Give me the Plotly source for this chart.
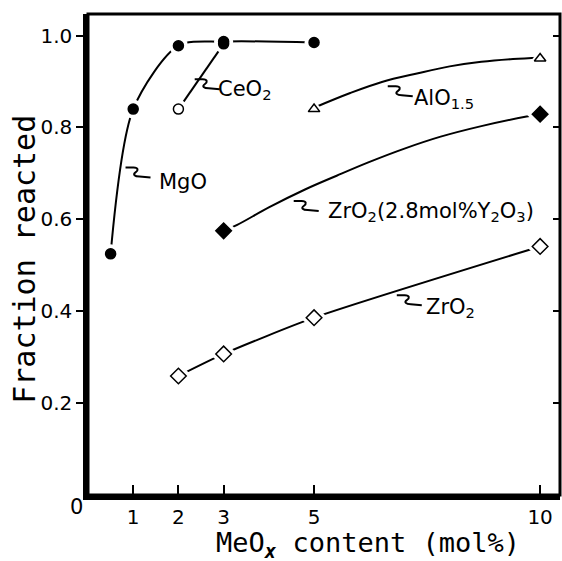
import plotly.graph_objects as go

# ---- data ----
mgo_x = [0.5, 1, 2, 3, 5]
mgo_y = [0.525, 0.84, 0.978, 0.987, 0.985]
ceo2_x = [2, 3]
ceo2_y = [0.84, 0.982]
alo_x = [5, 10]
alo_y = [0.84, 0.95]
zry_x = [3, 10]
zry_y = [0.575, 0.829]
zro2_x = [2, 3, 5, 10]
zro2_y = [0.259, 0.307, 0.386, 0.541]

# hand-drawn guide curves
alo_curve_x = [5.0, 5.8, 6.5, 7.3, 8.0, 8.7, 9.4, 10.0]
alo_curve_y = [0.843, 0.875, 0.899, 0.918, 0.933, 0.943, 0.949, 0.952]
zry_curve_x = [3.0, 3.3, 4.0, 4.8, 5.5, 6.2, 7.0, 7.8, 8.7, 9.7, 10.0]
zry_curve_y = [0.575, 0.588, 0.626, 0.665, 0.695, 0.724, 0.754, 0.780, 0.803, 0.824, 0.829]

x_ticks = [1, 2, 3, 5, 10]
y_ticks = [0.2, 0.4, 0.6, 0.8, 1.0]
y_tick_text = ["0.2", "0.4", "0.6", "0.8", "1.0"]

label_texts = ["MgO", "CeO<sub>2</sub>", "AlO<sub>1.5</sub>",
               "ZrO<sub>2</sub>(2.8mol%Y<sub>2</sub>O<sub>3</sub>)", "ZrO<sub>2</sub>"]

FONT = "DejaVu Sans"
MONO = "DejaVu Sans Mono"
BLK = "black"

fig = go.Figure()

# lines
line_style = dict(color=BLK, width=2)
fig.add_trace(go.Scatter(x=mgo_x, y=mgo_y, mode="lines", line=dict(shape="spline", smoothing=0.8, **line_style)))
fig.add_trace(go.Scatter(x=ceo2_x, y=ceo2_y, mode="lines", line=dict(**line_style)))
fig.add_trace(go.Scatter(x=alo_curve_x, y=alo_curve_y, mode="lines", line=dict(shape="spline", **line_style)))
fig.add_trace(go.Scatter(x=zry_curve_x, y=zry_curve_y, mode="lines", line=dict(shape="spline", **line_style)))
fig.add_trace(go.Scatter(x=zro2_x, y=zro2_y, mode="lines", line=dict(shape="spline", smoothing=0.6, **line_style)))

# white halos (gap between line and marker), then markers
series = [
    (mgo_x, mgo_y, "circle", ["black"] * len(mgo_x), 10),
    (ceo2_x, ceo2_y, "circle", ["white", "black"], 10),
    (alo_x, alo_y, "triangle-up", ["white"] * 2, 10),
    (zry_x, zry_y, "diamond", ["black"] * 2, 12),
    (zro2_x, zro2_y, "diamond", ["white"] * 4, 12),
]
for xs, ys, sym, cols, sz in series:
    fig.add_trace(go.Scatter(x=xs, y=ys, mode="markers",
                             marker=dict(symbol=sym, size=sz + 9, color="white", line=dict(width=0))))
for xs, ys, sym, cols, sz in series:
    fig.add_trace(go.Scatter(x=xs, y=ys, mode="markers",
                             marker=dict(symbol=sym, size=sz, color=cols, line=dict(color=BLK, width=1.5))))

# invisible trace for right axis
fig.add_trace(go.Scatter(x=[None], y=[None], yaxis="y2", mode="markers", showlegend=False))

# labels with squiggle leaders
label_pos = [(1.52, 0.682), (2.84, 0.882), (7.16, 0.862), (5.27, 0.615), (7.44, 0.408)]
squig_pos = [(0.83, 0.713), (2.36, 0.905), (6.63, 0.890), (4.55, 0.640), (6.83, 0.435)]
squig_path = "M0,0 L8,0 C13,0 13,-3 10,-5 C7,-7 9,-9 14,-9 L25,-10"
annotations = []
shapes = []
for t, (lx, ly), (sx, sy) in zip(label_texts, label_pos, squig_pos):
    annotations.append(dict(x=lx, y=ly, xref="x", yref="y", text=t, showarrow=False,
                            xanchor="left", yanchor="middle", font=dict(family=FONT, size=21, color=BLK)))
    shapes.append(dict(type="path", xref="x", yref="y", xsizemode="pixel", ysizemode="pixel",
                       xanchor=sx, yanchor=sy, path=squig_path, line=dict(color=BLK, width=2)))

annotations.append(dict(x=0, y=0, xref="x", yref="y", text="0", showarrow=False,
                        xanchor="right", yanchor="top", xshift=-3, yshift=2,
                        font=dict(family=FONT, size=21, color=BLK)))
# axis titles
annotations.append(dict(x=0.593, y=0, xref="paper", yref="paper", showarrow=False,
                        text="MeO<sub><b><i>x</i></b></sub> content (mol%)",
                        xanchor="center", yanchor="top", yshift=-31, borderpad=0,
                        font=dict(family=MONO, size=27, color=BLK)))
annotations.append(dict(x=0, y=0.489, xref="paper", yref="paper", showarrow=False,
                        text="Fraction reacted", textangle=-90,
                        xanchor="center", yanchor="middle", xshift=-63,
                        font=dict(family=MONO, size=30, color=BLK)))

shapes.append(dict(type="rect", xref="paper", yref="paper", x0=0, x1=1, y0=0, y1=1,
                   line=dict(color=BLK, width=3), layer="above"))

fig.update_layout(
    width=562, height=561,
    margin=dict(l=88, r=2, t=14, b=66),
    paper_bgcolor="white", plot_bgcolor="white",
    showlegend=False,
    font=dict(family=FONT, color=BLK),
    xaxis=dict(range=[0, 10.44], tickvals=x_ticks, ticks="inside", ticklen=10, tickwidth=2,
               tickcolor=BLK, showline=True, linewidth=4.5, linecolor=BLK, showgrid=False,
               zeroline=False, tickfont=dict(family=FONT, size=20, color=BLK)),
    yaxis=dict(range=[0, 1.047], tickvals=y_ticks, ticktext=y_tick_text, ticks="outside",
               ticklen=7, tickwidth=2, tickcolor=BLK, showline=True, linewidth=4.5, linecolor=BLK,
               showgrid=False, zeroline=False, tickfont=dict(family=FONT, size=20, color=BLK)),
    yaxis2=dict(overlaying="y", side="right", anchor="x", range=[0, 1.047], tickvals=y_ticks,
                ticks="inside", ticklen=7, tickwidth=2, tickcolor=BLK, showticklabels=False,
                showline=False, showgrid=False, zeroline=False),
    annotations=annotations,
    shapes=shapes,
)

fig.write_html("out.html", config={"displayModeBar": False},
               post_script="document.body.style.margin='0';document.body.style.overflow='hidden';")
